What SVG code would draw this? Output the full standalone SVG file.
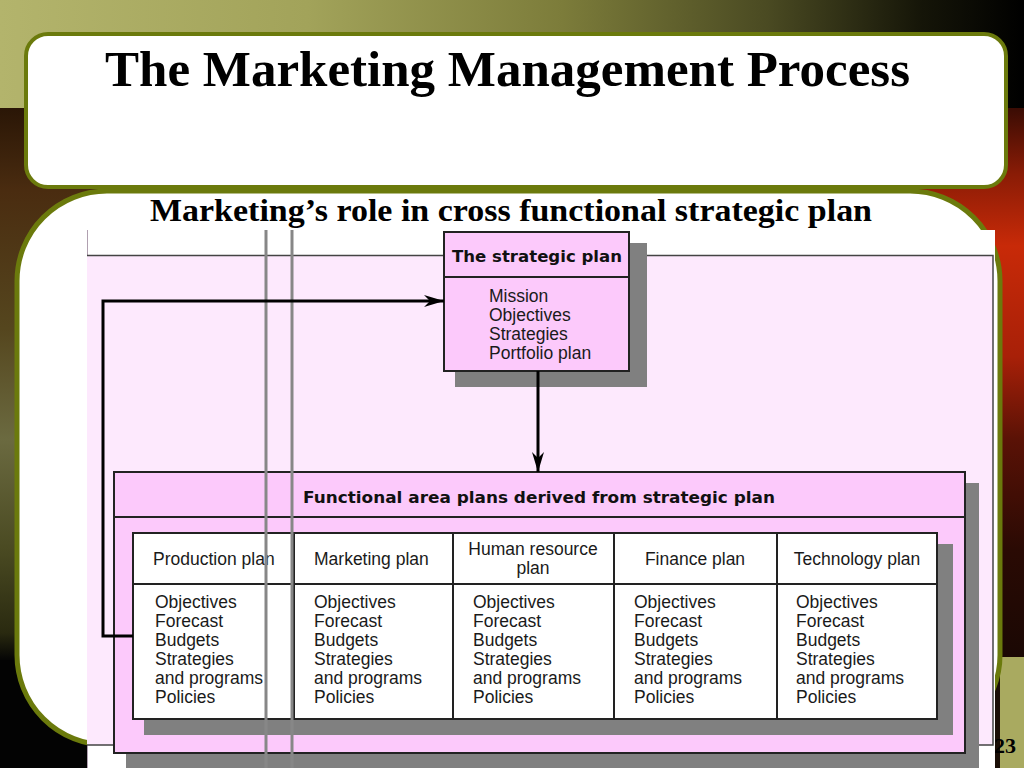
<svg xmlns="http://www.w3.org/2000/svg" width="1024" height="768" viewBox="0 0 1024 768">
<defs>
<linearGradient id="topBand" x1="0" y1="0" x2="1" y2="0">
<stop offset="0" stop-color="#b3b46c"/>
<stop offset="0.3" stop-color="#a2a35a"/>
<stop offset="0.55" stop-color="#7c7c3a"/>
<stop offset="0.75" stop-color="#4a4a22"/>
<stop offset="0.9" stop-color="#151508"/>
<stop offset="1" stop-color="#000000"/>
</linearGradient>
<linearGradient id="leftStrip" x1="0" y1="0" x2="0" y2="1">
<stop offset="0" stop-color="#2a1606"/>
<stop offset="0.15" stop-color="#4a2c10"/>
<stop offset="0.4" stop-color="#55461e"/>
<stop offset="0.6" stop-color="#6b6a40"/>
<stop offset="0.8" stop-color="#4a4a22"/>
<stop offset="0.95" stop-color="#2a2a10"/>
<stop offset="1" stop-color="#050505"/>
</linearGradient>
<linearGradient id="rightStrip" x1="0" y1="0" x2="0" y2="1">
<stop offset="0" stop-color="#3a0c04"/>
<stop offset="0.12" stop-color="#8a1c06"/>
<stop offset="0.25" stop-color="#c82a08"/>
<stop offset="0.45" stop-color="#a82008"/>
<stop offset="0.6" stop-color="#5a1206"/>
<stop offset="0.8" stop-color="#2a0a04"/>
<stop offset="1" stop-color="#1a0804"/>
</linearGradient>
<marker id="arrow" markerUnits="userSpaceOnUse" markerWidth="22" markerHeight="14" refX="20" refY="7" orient="auto">
<path d="M0,1 L20,7 L0,13 L6,7 Z" fill="#000"/>
</marker>
<style>
.frame{fill:#ffffff;stroke:#6b7a0c;stroke-width:5}
.shadow{fill:#808080}
.pink{fill:#fcc9fb;stroke:#222;stroke-width:2}
.cell{fill:#ffffff;stroke:#222;stroke-width:2}
.rule{stroke:#222;stroke-width:2;fill:none}
.bold{font-family:"DejaVu Sans","Liberation Sans",sans-serif;font-weight:bold;font-size:16px;fill:#111}
.reg{font-family:"Liberation Sans","Arial",sans-serif;font-size:17.5px;fill:#1a1a1a}
.serif{font-family:"Liberation Serif","Times New Roman",serif;font-weight:bold;fill:#000}
.conn{stroke:#000;stroke-width:3;fill:none}
.guide{stroke:#878787;stroke-width:3}
</style>
</defs>

<g id="background">
<rect x="0" y="0" width="1024" height="768" fill="#1a0e06"/>
<rect x="0" y="0" width="1024" height="108" fill="url(#topBand)"/>
<rect x="0" y="108" width="140" height="552" fill="url(#leftStrip)"/>
<rect x="0" y="660" width="140" height="108" fill="#030303"/>
<rect x="900" y="108" width="124" height="552" fill="url(#rightStrip)"/>
<rect x="1000" y="657" width="24" height="111" fill="#a9aa60"/>
</g>

<g id="panel">
<rect class="frame" x="17" y="191" width="983" height="554" rx="90" ry="90"/>
</g>
<g id="title-box">
<rect class="frame" x="26" y="34" width="980" height="153" rx="22" ry="22" style="stroke-width:4"/>
<text class="serif" x="105" y="86" font-size="51" textLength="805" lengthAdjust="spacingAndGlyphs">The Marketing Management Process</text>
</g>
<text class="serif" x="150" y="221" font-size="32" textLength="722" lengthAdjust="spacingAndGlyphs">Marketing’s role in cross functional strategic plan</text>
<text class="serif" x="994" y="753" font-size="22">23</text>

<g id="diagram">
<rect x="87" y="230" width="908" height="538" fill="#ffffff"/>
<line x1="87.5" y1="230" x2="87.5" y2="768" stroke="#b0a0b0" stroke-width="1"/>
<rect x="87" y="255" width="906" height="490" fill="#fde9fd"/>
<path class="rule" d="M87,255.5 H993 V745 H87" style="stroke:#444;stroke-width:1.5"/>

<g id="functional-area">
<rect class="shadow" x="126" y="483" width="853" height="285"/>
<rect class="pink" x="114" y="472" width="851" height="281"/>
<line class="rule" x1="114" y1="517" x2="965" y2="517"/>
<text class="bold" x="303" y="503" textLength="472" lengthAdjust="spacingAndGlyphs">Functional area plans derived from strategic plan</text>
</g>

<g id="table">
<rect class="shadow" x="144" y="544" width="809" height="191"/>
<rect class="cell" x="133" y="533" width="804" height="186"/>
<line class="rule" x1="133" y1="584" x2="937" y2="584"/>
<line class="rule" x1="294" y1="533" x2="294" y2="719"/>
<line class="rule" x1="453" y1="533" x2="453" y2="719"/>
<line class="rule" x1="614" y1="533" x2="614" y2="719"/>
<line class="rule" x1="777" y1="533" x2="777" y2="719"/>
</g>

<g id="production-plan">
<text class="reg" x="153" y="565">Production plan</text>
<text class="reg" x="155" y="608">Objectives</text>
<text class="reg" x="155" y="627">Forecast</text>
<text class="reg" x="155" y="646">Budgets</text>
<text class="reg" x="155" y="665">Strategies</text>
<text class="reg" x="155" y="684">and programs</text>
<text class="reg" x="155" y="703">Policies</text>
</g>
<g id="marketing-plan">
<text class="reg" x="314" y="565">Marketing plan</text>
<text class="reg" x="314" y="608">Objectives</text>
<text class="reg" x="314" y="627">Forecast</text>
<text class="reg" x="314" y="646">Budgets</text>
<text class="reg" x="314" y="665">Strategies</text>
<text class="reg" x="314" y="684">and programs</text>
<text class="reg" x="314" y="703">Policies</text>
</g>
<g id="human-resource-plan">
<text class="reg" x="533" y="555" text-anchor="middle">Human resource</text>
<text class="reg" x="533" y="574" text-anchor="middle">plan</text>
<text class="reg" x="473" y="608">Objectives</text>
<text class="reg" x="473" y="627">Forecast</text>
<text class="reg" x="473" y="646">Budgets</text>
<text class="reg" x="473" y="665">Strategies</text>
<text class="reg" x="473" y="684">and programs</text>
<text class="reg" x="473" y="703">Policies</text>
</g>
<g id="finance-plan">
<text class="reg" x="695" y="565" text-anchor="middle">Finance plan</text>
<text class="reg" x="634" y="608">Objectives</text>
<text class="reg" x="634" y="627">Forecast</text>
<text class="reg" x="634" y="646">Budgets</text>
<text class="reg" x="634" y="665">Strategies</text>
<text class="reg" x="634" y="684">and programs</text>
<text class="reg" x="634" y="703">Policies</text>
</g>
<g id="technology-plan">
<text class="reg" x="857" y="565" text-anchor="middle">Technology plan</text>
<text class="reg" x="796" y="608">Objectives</text>
<text class="reg" x="796" y="627">Forecast</text>
<text class="reg" x="796" y="646">Budgets</text>
<text class="reg" x="796" y="665">Strategies</text>
<text class="reg" x="796" y="684">and programs</text>
<text class="reg" x="796" y="703">Policies</text>
</g>

<g id="strategic-plan">
<rect class="shadow" x="455" y="243" width="192" height="144"/>
<rect class="pink" x="444" y="232" width="185" height="139"/>
<line class="rule" x1="444" y1="277" x2="629" y2="277"/>
<text class="bold" x="452" y="262" textLength="170" lengthAdjust="spacingAndGlyphs">The strategic plan</text>
<text class="reg" x="489" y="302">Mission</text>
<text class="reg" x="489" y="321">Objectives</text>
<text class="reg" x="489" y="340">Strategies</text>
<text class="reg" x="489" y="359">Portfolio plan</text>
</g>

<g id="guides">
<line class="guide" x1="266" y1="230" x2="266" y2="768"/>
<line class="guide" x1="292" y1="230" x2="292" y2="768"/>
</g>

<g id="connectors">
<path class="conn" d="M133,636 H103 V301 H444" marker-end="url(#arrow)"/>
<path class="conn" d="M538,371 V472" marker-end="url(#arrow)"/>
</g>
</g>
</svg>
